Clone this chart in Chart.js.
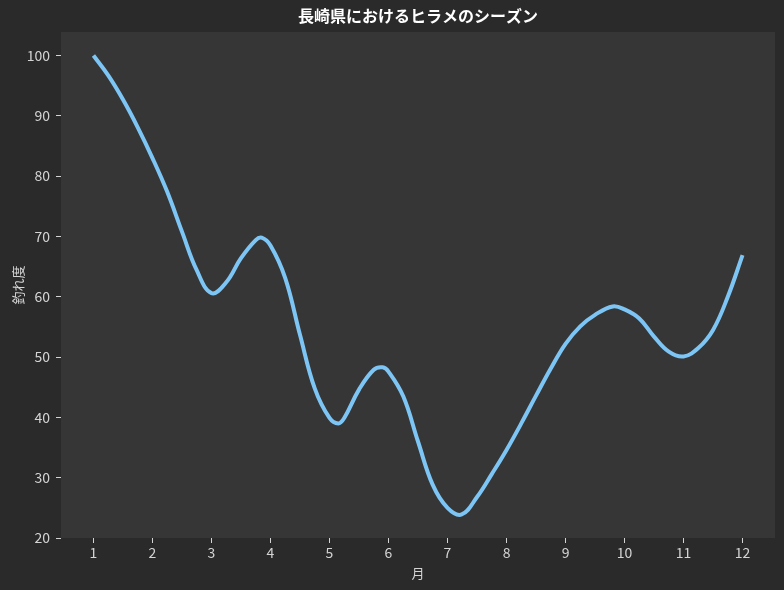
<!DOCTYPE html>
<html>
<head>
<meta charset="utf-8">
<script src="https://cdn.jsdelivr.net/npm/chart.js@4/dist/chart.umd.min.js"></script>
<style>
  html, body { margin: 0; padding: 0; background: #2a2a2a; }
  canvas { display: block; }
</style>
</head>
<body>
<canvas id="c" width="784" height="590"></canvas>
<script>
// Data
const months = [1, 1.25, 1.5, 1.75, 2, 2.25, 2.5, 2.75, 3, 3.25, 3.5, 3.75, 3.85, 4, 4.25, 4.5, 4.75, 5, 5.15, 5.25, 5.5, 5.75, 5.9, 6, 6.25, 6.5, 6.75, 7, 7.24, 7.5, 7.75, 8, 8.25, 8.5, 8.75, 9, 9.25, 9.5, 9.8, 10, 10.25, 10.5, 10.75, 11, 11.25, 11.5, 11.75, 12];
const catchRate = [100, 96.7, 92.7, 88.1, 83.0, 77.4, 70.8, 64.4, 60.6, 62.4, 66.4, 69.4, 69.8, 68.5, 63.1, 53.7, 44.8, 39.9, 39.0, 39.9, 44.6, 47.9, 48.3, 47.6, 43.5, 36.0, 28.8, 25.0, 23.9, 26.8, 30.6, 34.6, 39.0, 43.6, 48.1, 52.2, 55.1, 57.0, 58.4, 57.9, 56.4, 53.4, 50.9, 50.1, 51.5, 54.5, 60.0, 66.9];
const xTicks = [1, 2, 3, 4, 5, 6, 7, 8, 9, 10, 11, 12];
const yTicks = [20, 30, 40, 50, 60, 70, 80, 90, 100];
const titleText = '長崎県におけるヒラメのシーズン';
const xTitle = '月';
const yTitle = '釣れ度';

const FONT = '"Noto Sans CJK JP", "Noto Sans", sans-serif';
const TEXT = '#d4d4d4';

const bgPlugin = {
  id: 'bg',
  beforeDraw(chart) {
    const ctx = chart.ctx, a = chart.chartArea;
    ctx.save();
    ctx.fillStyle = '#2a2a2a';
    ctx.fillRect(0, 0, chart.width, chart.height);
    ctx.fillStyle = '#363636';
    ctx.fillRect(a.left, a.top, a.right - a.left, a.bottom - a.top);
    ctx.restore();
  },
  afterLayout(chart) {
    if (chart.titleBlock) {
      chart.titleBlock.left = chart.chartArea.left;
      chart.titleBlock.right = chart.chartArea.right;
    }
  }
};

new Chart(document.getElementById('c'), {
  type: 'line',
  data: {
    datasets: [{
      data: months.map((m, i) => ({ x: m, y: catchRate[i] })),
      borderColor: '#7dc5f5',
      borderWidth: 4,
      pointRadius: 0,
      fill: false,
      tension: 0.4,
      borderCapStyle: 'butt'
    }]
  },
  options: {
    responsive: false,
    animation: false,
    devicePixelRatio: 1,
    layout: { padding: { left: 0, right: 9, top: 0, bottom: 0 } },
    plugins: {
      legend: { display: false },
      tooltip: { enabled: false },
      title: {
        display: true,
        text: titleText,
        color: '#ffffff',
        font: { family: FONT, size: 16, weight: 'bold' },
        padding: { top: 6, bottom: 6.8 }
      }
    },
    scales: {
      x: {
        type: 'linear',
        min: 0.45,
        max: 12.55,
        border: { display: false },
        grid: { drawOnChartArea: false, drawTicks: true, tickLength: 5, tickColor: TEXT },
        afterBuildTicks(scale) { scale.ticks = xTicks.map(v => ({ value: v })); },
        afterFit(scale) { scale.height = 52; },
        ticks: {
          color: TEXT,
          font: { family: FONT, size: 14 },
          padding: 1,
          maxRotation: 0,
          callback: v => String(v)
        },
        title: {
          display: true,
          text: xTitle,
          color: TEXT,
          font: { family: FONT, size: 13 },
          padding: { top: 0, bottom: 9 }
        }
      },
      y: {
        type: 'linear',
        min: 20,
        max: 103.9,
        border: { display: false },
        grid: { drawOnChartArea: false, drawTicks: true, tickLength: 5, tickColor: TEXT },
        afterBuildTicks(scale) { scale.ticks = yTicks.map(v => ({ value: v })); },
        afterFit(scale) { scale.width = 61; },
        ticks: {
          color: TEXT,
          font: { family: FONT, size: 14 },
          padding: 6,
          callback: v => String(v)
        },
        title: {
          display: true,
          text: yTitle,
          color: TEXT,
          font: { family: FONT, size: 13 },
          padding: { top: 10, bottom: 0 }
        }
      }
    }
  },
  plugins: [bgPlugin]
});
</script>
</body>
</html>
